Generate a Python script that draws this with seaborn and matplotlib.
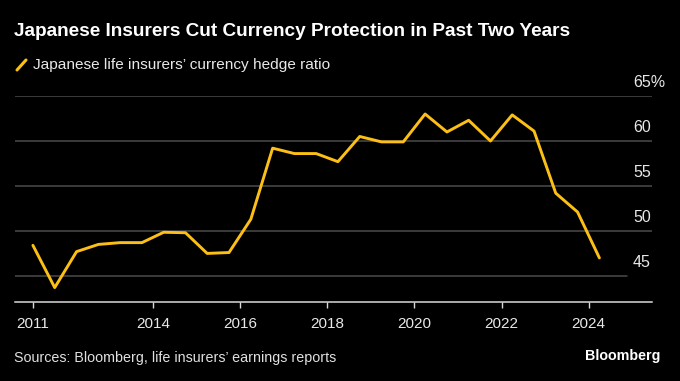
import pandas as pd
import matplotlib.pyplot as plt
import matplotlib.transforms as mtransforms
import seaborn as sns

# half-year reporting dates (fiscal Mar / Sep)
dates = ['2011-03-31', '2011-09-30', '2012-03-31', '2012-09-30', '2013-03-31',
         '2013-09-30', '2014-03-31', '2014-09-30', '2015-03-31', '2015-09-30',
         '2016-03-31', '2016-09-30', '2017-03-31', '2017-09-30', '2018-03-31',
         '2018-09-30', '2019-03-31', '2019-09-30', '2020-03-31', '2020-09-30',
         '2021-03-31', '2021-09-30', '2022-03-31', '2022-09-30', '2023-03-31',
         '2023-09-30', '2024-03-31']
hedge_ratio = [48.4, 43.7, 47.7, 48.5, 48.7, 48.7, 49.85, 49.8, 47.5, 47.6,
               51.3, 59.2, 58.6, 58.6, 57.7, 60.5, 59.9, 59.9, 63.0, 61.0,
               62.3, 60.0, 62.9, 61.1, 54.2, 52.1, 47.0]

tick_dates = ['2011-03-31', '2014-01-01', '2016-01-01', '2018-01-01',
              '2020-01-01', '2022-01-01', '2024-01-01']
tick_labels = ['2011', '2014', '2016', '2018', '2020', '2022', '2024']
y_ticks = [45, 50, 55, 60, 65]
y_labels = ['45', '50', '55', '60', '65%']

title = 'Japanese Insurers Cut Currency Protection in Past Two Years'
series_name = 'Japanese life insurers\u2019 currency hedge ratio'
source = 'Sources: Bloomberg, life insurers\u2019 earnings reports'

BG = '#000000'
YELLOW = '#fcbf15'
GRID = '#4b4b4b'

sns.set_theme(style='dark')
plt.rcParams['font.family'] = ['Liberation Sans', 'DejaVu Sans']

df = pd.DataFrame({'date': pd.to_datetime(dates), 'ratio': hedge_ratio})

fig = plt.figure(figsize=(6.8, 3.81), dpi=100, facecolor=BG)
ax = fig.add_axes([15 / 680, 79 / 381, 637 / 680, 206 / 381])
ax.set_facecolor(BG)

# gridlines (the lowest one stops short of the labels)
for v in y_ticks:
    xmax = (627 - 15) / 637 if v == 45 else 1.0
    ax.axhline(v, xmin=0, xmax=xmax, color=GRID, lw=1.1, zorder=1)

sns.lineplot(data=df, x='date', y='ratio', ax=ax, color=YELLOW, lw=2.1,
             zorder=3, legend=False)

ax.set_ylim(42.1, 65)
ax.set_xlim(pd.Timestamp('2010-11-01'), pd.Timestamp('2025-06-15'))
ax.grid(False)
for side in ['top', 'right', 'left']:
    ax.spines[side].set_visible(False)
ax.spines['bottom'].set_color('#d9d9d9')
ax.spines['bottom'].set_linewidth(1.1)

ax.set_xticks(pd.to_datetime(tick_dates))
ax.set_xticklabels(tick_labels)
ax.tick_params(axis='x', colors='#d9d9d9', length=4.5, width=1, pad=6.5,
               labelsize=11, labelcolor='#e8e8e8', bottom=True)
ax.set_yticks([])
ax.set_xlabel('')
ax.set_ylabel('')

# y labels sit above their gridlines on the right
trans = mtransforms.blended_transform_factory(ax.transAxes, ax.transData)
trans = mtransforms.offset_copy(trans, fig=fig, y=10, units='points')
for v, lab in zip(y_ticks, y_labels):
    ax.text((633 - 15) / 637, v, lab, transform=trans, ha='left', va='center',
            fontsize=11.5, color='#e8e8e8')

fig.text(14 / 680, 1 - 32 / 381, title, fontsize=13.7, fontweight='bold',
         color='white', va='center', ha='left')
fig.lines.append(plt.Line2D([17 / 680, 26 / 680], [1 - 70 / 381, 1 - 60 / 381],
                            transform=fig.transFigure, color=YELLOW, lw=2.2))
fig.text(33 / 680, 1 - 65 / 381, series_name, fontsize=11.1, color='#e8e8e8',
         va='center', ha='left')
fig.text(14 / 680, 1 - 358 / 381, source, fontsize=10.3, color='#e0e0e0',
         va='center', ha='left')
fig.text(660 / 680, 1 - 356 / 381, 'Bloomberg', fontsize=10.3,
         fontweight='bold', color='white', va='center', ha='right')

fig.savefig('out.png', dpi=100, facecolor=BG)
